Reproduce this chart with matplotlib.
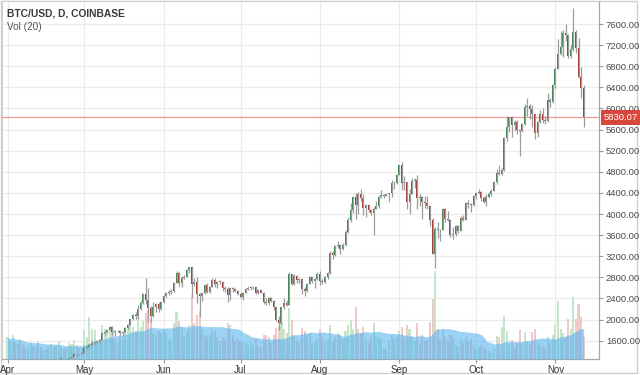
import matplotlib
matplotlib.use("Agg")
import matplotlib.pyplot as plt
import matplotlib.dates as mdates
from matplotlib.ticker import FormatStrFormatter
from matplotlib.patches import Rectangle
import numpy as np
import pandas as pd

plt.rcParams['font.family'] = ['Liberation Sans', 'DejaVu Sans']

# ---------------- data (daily BTC/USD, Coinbase, 2017-04-01 .. 2017-11-12) ----------------
start_date = "2017-04-01"

opens = [
    # Apr
    1071,1099,1117,1180,1143,1133,1190,1187,1175,1187,1205,1200,1203,1169,1167,1172,1182,1193,1211,1210,1230,1257,1257,1250,1260,1280,1300,1345,1340,1350,
    # May
    1375,1460,1480,1520,1560,1575,1595,1620,1740,1770,1810,1860,1760,1780,1790,1740,1760,1840,1900,2010,2090,2060,2200,2320,2480,2370,2220,2060,2230,2290,2200,
    # Jun
    2330,2450,2510,2530,2540,2700,2880,2700,2790,2810,2930,2990,2680,2710,2480,2440,2500,2660,2530,2620,2750,2670,2710,2720,2590,2570,2470,2590,2580,2550,
    # Jul
    2480,2430,2510,2570,2600,2610,2610,2510,2560,2510,2340,2310,2400,2360,2230,2000,1930,2230,2320,2280,2860,2680,2830,2750,2760,2580,2540,2680,2800,2730,2760,
    # Aug
    2870,2730,2710,2800,2880,3260,3220,3390,3420,3340,3410,3660,3880,4070,4320,4170,4380,4300,4120,4170,4070,4010,4100,4150,4320,4360,4350,4380,4390,4590,4580,
    # Sep
    4740,4920,4580,4600,4230,4380,4620,4640,4300,4330,4230,4200,4160,3880,3250,3710,3700,3690,4100,3910,3880,3610,3620,3780,3670,3930,3890,4210,4190,4170,
    # Oct
    4340,4400,4410,4310,4220,4330,4370,4440,4610,4780,4760,4830,5440,5640,5830,5690,5750,5600,5580,5710,6020,6050,5990,5900,5530,5740,5890,5780,5760,6160,6130,
    # Nov
    6450,6750,7040,7160,7430,7390,6990,7130,7450,7150,6600,6380,
]

highs = [
    1105,1125,1180,1185,1150,1195,1197,1200,1210,1210,1215,1212,1208,1185,1186,1188,1196,1215,1218,1240,1265,1265,1262,1262,1285,1310,1350,1360,1355,1380,
    1490,1490,1530,1620,1600,1610,1640,1760,1790,1830,1880,1870,1800,1810,1795,1780,1860,1910,2020,2100,2150,2280,2350,2500,2790,2600,2250,2330,2320,2330,2340,
    2460,2520,2560,2580,2720,2920,2900,2820,2850,2950,3000,3000,2780,2800,2500,2520,2680,2690,2640,2780,2790,2730,2750,2730,2630,2610,2600,2620,2600,2560,
    2520,2530,2600,2640,2630,2630,2620,2580,2580,2530,2400,2420,2420,2370,2240,2060,2240,2400,2380,2900,2870,2860,2840,2790,2770,2620,2700,2830,2810,2790,2900,
    2920,2760,2820,2900,3300,3290,3420,3480,3430,3450,3700,3950,4200,4330,4400,4420,4480,4370,4190,4180,4100,4140,4250,4340,4450,4380,4400,4400,4640,4630,4750,
    4930,4980,4720,4610,4470,4680,4680,4730,4380,4350,4350,4350,4160,3920,3760,3850,3720,4120,4120,4050,3900,3760,3800,3790,3960,3990,4230,4260,4200,4360,
    4410,4470,4440,4350,4370,4420,4470,4620,4860,4920,4880,5450,5850,5840,5850,5780,5780,5610,5730,6080,6190,6080,6060,5900,5760,5970,6000,5850,6300,6190,6470,
    6780,7320,7460,7480,7600,7420,7210,7900,7480,7330,6780,6450,
]

lows = [
    1068,1097,1115,1130,1120,1130,1176,1168,1170,1180,1195,1195,1150,1160,1165,1168,1170,1188,1200,1205,1225,1235,1240,1240,1255,1275,1298,1310,1330,1340,
    1370,1440,1470,1500,1520,1560,1550,1615,1700,1740,1800,1700,1690,1760,1700,1690,1740,1820,1890,2000,2020,2010,2190,2300,2300,1950,1950,2050,2150,2150,2190,
    2310,2420,2460,2480,2530,2690,2640,2620,2770,2800,2880,2400,2640,2320,2050,2360,2480,2500,2500,2610,2620,2600,2680,2540,2520,2330,2380,2520,2530,2470,
    2400,2380,2500,2560,2560,2580,2490,2480,2500,2300,2280,2270,2330,2180,1980,1810,1920,2200,2250,2270,2650,2660,2700,2700,2480,2450,2530,2670,2700,2600,2750,
    2650,2670,2700,2760,2870,3150,3200,3350,3250,3320,3390,3640,3850,4010,3900,4000,4250,3980,3950,4030,3980,3600,4090,4110,4300,4300,4340,4230,4330,4480,4570,
    4730,4460,4450,4100,4000,4370,4500,4100,4150,3900,4120,4100,3770,3250,2980,3540,3480,3690,3850,3860,3560,3520,3580,3640,3670,3870,3880,4120,4040,4160,
    4280,4380,4250,4200,4160,4310,4340,4430,4560,4740,4730,4820,5380,5560,5450,5580,5510,5100,5560,5680,5860,5800,5650,5430,5460,5730,5730,5700,5750,6020,6100,
    6380,6740,7020,6980,7280,6960,6960,7080,7060,6580,6200,5650,
]

closes = [
    1099,1117,1180,1143,1133,1190,1187,1175,1187,1205,1200,1203,1169,1167,1172,1182,1193,1211,1210,1230,1257,1257,1250,1260,1280,1300,1345,1340,1350,1375,
    1460,1480,1520,1560,1575,1595,1620,1740,1770,1810,1860,1760,1780,1790,1740,1760,1840,1900,2010,2090,2060,2200,2320,2480,2370,2220,2060,2230,2290,2200,2330,
    2450,2510,2530,2540,2700,2880,2700,2790,2810,2930,2990,2680,2710,2480,2440,2500,2660,2530,2620,2750,2670,2710,2720,2590,2570,2470,2590,2580,2550,2480,
    2430,2510,2570,2600,2610,2610,2510,2560,2510,2340,2310,2400,2360,2230,2000,1930,2230,2320,2280,2860,2680,2830,2750,2760,2580,2540,2680,2800,2730,2760,2870,
    2730,2710,2800,2880,3260,3220,3390,3420,3340,3410,3660,3880,4070,4320,4170,4380,4300,4120,4170,4070,4010,4100,4150,4320,4360,4350,4380,4390,4590,4580,4740,
    4920,4580,4600,4230,4380,4620,4640,4300,4330,4230,4200,4160,3880,3250,3710,3700,3690,4100,3910,3880,3610,3620,3780,3670,3930,3890,4210,4190,4170,4340,
    4400,4410,4310,4220,4330,4370,4440,4610,4780,4760,4830,5440,5640,5830,5690,5750,5600,5580,5710,6020,6050,5990,5900,5530,5740,5890,5780,5760,6160,6130,6450,
    6750,7040,7160,7430,7390,6990,7130,7450,7150,6600,6380,5830.07,
]

# volume (relative units)
volumes = [
    22,18,24,17,15,20,14,12,11,16,13,12,17,12,9,10,13,15,12,14,18,12,10,11,16,15,19,14,11,12,
    29,22,42,30,29,18,20,34,30,28,32,30,20,16,24,20,30,30,36,32,28,41,32,38,46,49,40,26,24,28,26,
    30,26,20,18,36,47,38,30,22,28,34,64,36,44,48,30,24,22,24,30,28,22,18,22,20,36,34,24,18,20,
    18,16,16,14,16,14,20,12,12,24,24,22,16,24,31,32,36,30,26,51,39,24,18,16,31,28,24,26,16,18,20,
    30,22,18,20,34,18,22,26,24,20,28,34,39,30,52,30,26,32,20,16,22,36,22,22,20,10,10,18,24,20,22,
    28,32,22,34,30,22,18,36,16,24,18,20,37,60,88,30,20,30,22,18,24,22,14,12,20,16,22,18,20,14,
    10,12,14,12,10,8,6,10,23,22,32,43,28,14,19,12,16,29,14,27,18,14,27,30,16,14,12,10,22,16,24,
    34,58,30,26,22,40,30,62,40,55,42,22,
]

last_price = 5830.07
price_ticks = list(range(1600, 7601, 400))
month_labels = ['Apr', 'May', 'Jun', 'Jul', 'Aug', 'Sep', 'Oct', 'Nov']
title_text = "BTC/USD, D, COINBASE"
vol_text = "Vol (20)"

# ---------------- build ----------------
dates = pd.date_range(start_date, periods=len(closes), freq='D')
x = mdates.date2num(dates.to_pydatetime())
o = np.array(opens, float); h = np.array(highs, float)
l = np.array(lows, float); c = np.array(closes, float)
v = np.array(volumes, float)
ma = pd.Series(v).rolling(20, min_periods=1).mean().values
up = c >= o

UP = '#3b8552'; DOWN = '#a8362c'
VUP = '#c6e4ca'; VDOWN = '#f0c8c8'

W, H = 640, 375
fig = plt.figure(figsize=(W/100, H/100), dpi=100)
fig.patch.set_facecolor('white')
rect = [2/W, 16/H, 597/W, 358/H]

ax = fig.add_axes(rect)
axv = fig.add_axes(rect, sharex=ax)
axc = fig.add_axes(rect, sharex=ax, sharey=ax)
ax.set_zorder(1); axv.set_zorder(2); axc.set_zorder(3)
for a in (axv, axc):
    a.patch.set_visible(False)
    a.axis('off')

x0 = mdates.date2num(pd.Timestamp(start_date).to_pydatetime())
ax.set_xlim(x0 - 2.15, x0 + 231.0)
ax.set_ylim(1253, 8036)
axv.set_ylim(0, 358)

# grid / ticks
ax.set_yticks(price_ticks)
ax.yaxis.set_major_formatter(FormatStrFormatter('%.2f'))
ax.yaxis.tick_right()
month_pos = mdates.date2num(pd.date_range(start_date, periods=len(month_labels), freq='MS').to_pydatetime())
ax.set_xticks(month_pos)
ax.set_xticklabels(month_labels)
ax.grid(True, color='#ebebeb', lw=0.8)
ax.tick_params(axis='y', length=3, width=0.8, color='#9a9a9a', labelcolor='#4a4a4a', labelsize=6.8, pad=2)
ax.tick_params(axis='x', length=3, width=0.8, color='#9a9a9a', labelcolor='#333333', labelsize=7.0, pad=1.5)
for s in ('left', 'top'):
    ax.spines[s].set_color('#d0d0d0'); ax.spines[s].set_linewidth(0.8)
for s in ('right', 'bottom'):
    ax.spines[s].set_color('#a8a8a8'); ax.spines[s].set_linewidth(0.9)

# volume
axv.bar(x, v, width=0.8, color=np.where(up, VUP, VDOWN), linewidth=0)
axv.fill_between(x, 0, ma, color='#55b3ef', alpha=0.58, linewidth=0)

# candles
axc.vlines(x, l, h, color='#9c9c9c', linewidth=0.9)
body_bottom = np.minimum(o, c)
body_h = np.maximum(np.abs(c - o), 12)
axc.bar(x, body_h, bottom=body_bottom, width=0.78, color=np.where(up, UP, DOWN), linewidth=0)

# last price line + label
axc.axhline(last_price, color='#f19a92', lw=0.9, ls='-', zorder=0.5)
axc.annotate(f"{last_price:.2f}", xy=(1.0, last_price), xycoords=('axes fraction', 'data'),
             xytext=(5, 0), textcoords='offset pixels', ha='left', va='center',
             color='white', fontsize=6.8,
             bbox=dict(boxstyle='square,pad=0.3', fc='#d8473b', ec='none'),
             annotation_clip=False)

# titles
fig.text(7/W, 1 - 17/H, title_text, fontsize=7.4, fontweight='bold', color='#3a3a3a')
fig.text(7/W, 1 - 30/H, vol_text, fontsize=7.2, color='#555555')

# outer frame
fig.add_artist(Rectangle((1/W, 2/H), 636/W, 372/H, transform=fig.transFigure,
                         fill=False, ec='#cfcfcf', lw=1))

fig.savefig('out.png', dpi=100)
